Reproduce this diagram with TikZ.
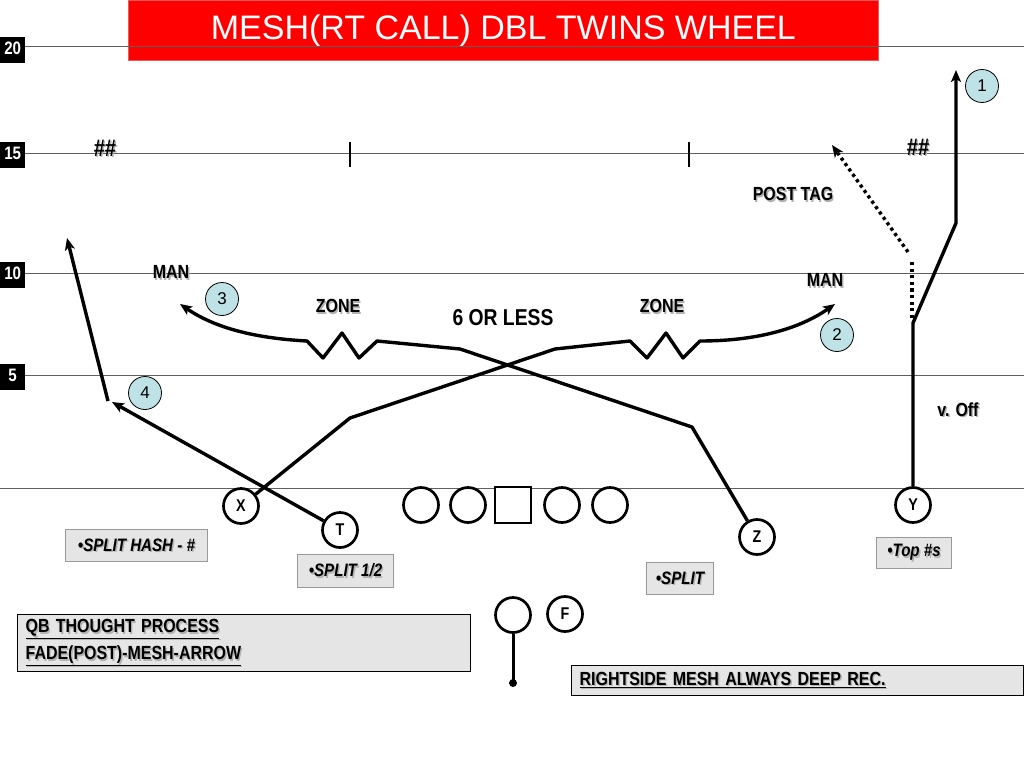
\documentclass[tikz,border=0pt]{standalone}
\usepackage{fontspec}
\setmainfont{Liberation Sans}
\newfontfamily\nar[FakeStretch=0.84]{Liberation Sans}
\usetikzlibrary{arrows.meta}
\definecolor{numfill}{RGB}{190,226,229}
\definecolor{boxfill}{RGB}{229,229,229}
\definecolor{yardline}{RGB}{95,95,95}
\definecolor{titlered}{RGB}{255,0,0}
\newcommand\shd[1]{\leavevmode\rlap{\hspace{1.4pt}\raisebox{-1.4pt}{\textcolor{black!30}{#1}}}#1}
\begin{document}
\begin{tikzpicture}[x=1pt,y=-1pt,
  yl/.style={draw=yardline,line width=1pt},
  route/.style={line width=3.4pt,line join=round},
  arr/.style={-{Stealth[length=12pt,width=10pt,inset=3pt]}},
  dotroute/.style={line width=3.4pt,dash pattern=on 3.2pt off 3.4pt},
  player/.style={circle,draw,line width=2.7pt,fill=white,minimum size=35pt,inner sep=0pt,font=\nar\bfseries\fontsize{17}{17}\selectfont},
  lineman/.style={circle,draw,line width=2.7pt,fill=white,minimum size=35pt,inner sep=0pt},
  center/.style={rectangle,draw,line width=2.7pt,fill=white,minimum size=36pt,inner sep=0pt},
  numc/.style={circle,draw,line width=0.8pt,fill=numfill,minimum size=33pt,inner sep=0pt,font=\fontsize{17}{17}\selectfont},
  yardnum/.style={fill=black,text=white,font=\nar\bfseries\fontsize{18}{18}\selectfont,minimum width=25pt,inner sep=0pt,text height=17pt,text depth=9pt,anchor=north west},
  lbl/.style={font=\nar\bfseries\fontsize{19}{19}\selectfont,inner sep=0pt},
  note/.style={draw=black!40,fill=boxfill,line width=1pt,inner sep=0pt,font=\nar\bfseries\itshape\fontsize{18}{18}\selectfont,anchor=north west},
  bignote/.style={draw=black,fill=boxfill,line width=1.3pt,inner ysep=0pt,inner xsep=8pt,align=left,font=\nar\bfseries\fontsize{19}{27}\selectfont,anchor=north west}
]
\useasboundingbox (0,0) rectangle (1024,768);
\fill[white] (0,0) rectangle (1024,768);

% title
\node[fill=titlered,draw={rgb,255:red,235;green,90;blue,90},line width=0.8pt,minimum width=750pt,minimum height=60pt,anchor=north west,inner sep=0pt,text=white,font=\fontsize{34}{34}\selectfont] (title) at (128,0) {MESH(RT CALL) DBL TWINS WHEEL};

% yard lines
\draw[yl] (25,47) -- (1024,47);
\draw[yl] (25,153) -- (1024,153);
\draw[yl] (25,273) -- (1024,273);
\draw[yl] (25,375) -- (1024,375);
\draw[yl] (0,488) -- (1024,488);
\node[yardnum] (y20) at (0,37) {20};
\node[yardnum] (y15) at (0,142) {15};
\node[yardnum] (y10) at (0,262) {10};
\node[yardnum] (y5) at (0,364) {5};

% hashes and ticks
\node[lbl,font=\nar\bfseries\fontsize{24}{24}\selectfont] (hashl) at (105,149) {\shd{\#\#}};
\node[lbl,font=\nar\bfseries\fontsize{24}{24}\selectfont] (hashr) at (918,148) {\shd{\#\#}};
\draw[line width=1.6pt] (350,142) -- (350,167);
\draw[line width=1.6pt] (689,142) -- (689,167);

% players
\node[player] (X) at (241,506) {X};
\node[player] (T) at (340,530) {T};
\node[lineman] (o1) at (421,505) {};
\node[lineman] (o2) at (468,505) {};
\node[center] (C) at (513,505) {};
\node[lineman] (o3) at (562,505) {};
\node[lineman] (o4) at (610,505) {};
\node[player] (Z) at (757,537) {Z};
\node[player] (Y) at (913,505) {Y};
\node[lineman] (QB) at (513,615) {};
\node[player] (F) at (565,614) {F};
\coordinate (qbend) at (513,683);
\draw[line width=3pt] (QB) -- (qbend);
\fill (qbend) circle (4pt);

% X route
\coordinate (xa) at (350,418);
\coordinate (xb) at (555,349);
\coordinate (xc) at (630,341);
\coordinate (xz1) at (647,358);
\coordinate (xz2) at (666,333);
\coordinate (xz3) at (683,358);
\coordinate (xe) at (700,341);
\coordinate (xt) at (835,304);
\draw[route,arr] (X) -- (xa) -- (xb) -- (xc) -- (xz1) -- (xz2) -- (xz3) -- (xe) .. controls (765,341) and (805,325) .. (xt);

% Z route
\coordinate (za) at (692,427);
\coordinate (zb) at (460,349);
\coordinate (zc) at (377,341);
\coordinate (zz1) at (359,358);
\coordinate (zz2) at (342,333);
\coordinate (zz3) at (323,358);
\coordinate (ze) at (307,341);
\coordinate (zt) at (180,304);
\draw[route,arr] (Z) -- (za) -- (zb) -- (zc) -- (zz1) -- (zz2) -- (zz3) -- (ze) .. controls (250,338) and (212,326) .. (zt);

% T route
\coordinate (ta) at (112,402);
\coordinate (tb) at (108,401);
\coordinate (tt) at (67,238);
\draw[route,arr] (T) -- (ta);
\draw[route,arr] (tb) -- (tt);

% Y route
\coordinate (ya) at (913,323);
\coordinate (yb) at (956,223);
\coordinate (yt) at (956,70);
\draw[route,arr] (Y) -- (ya) -- (yb) -- (yt);

% post tag (dotted)
\coordinate (pa) at (912,318);
\coordinate (pb) at (912,262);
\coordinate (pc) at (908,252);
\coordinate (pt) at (832,145);
\draw[dotroute] (pa) -- (pb);
\draw[dotroute,arr] (pc) -- (pt);

% number circles
\node[numc] (n1) at (982,86) {1};
\node[numc] (n2) at (837,335) {2};
\node[numc] (n3) at (222,299) {3};
\node[numc] (n4) at (145,393) {4};

% labels
\node[lbl] (manl) at (171,273) {\shd{MAN}};
\node[lbl] (manr) at (825,281) {\shd{MAN}};
\node[lbl] (zonel) at (338,307) {\shd{ZONE}};
\node[lbl] (zoner) at (662,307) {\shd{ZONE}};
\node[lbl,font=\nar\bfseries\fontsize{23}{23}\selectfont] (six) at (503,318) {6 OR LESS};
\node[lbl] (post) at (793,195) {\shd{POST TAG}};
\node[lbl] (voff) at (958,410) {\shd{v. Off}};

% notes
\node[note,minimum width=142pt,minimum height=32pt] (nh) at (65,529) {\shd{\textbullet SPLIT HASH - \#}};
\node[note,minimum width=96pt,minimum height=33pt] (ns) at (297,554) {\shd{\textbullet SPLIT 1/2}};
\node[note,minimum width=67pt,minimum height=32pt] (nz) at (646,562) {\shd{\textbullet SPLIT}};
\node[note,minimum width=75pt,minimum height=31pt] (nt) at (876,537) {\shd{\textbullet Top \#s}};
\node[bignote,text width=437pt,minimum height=57pt] (qbnote) at (17,614) {\shd{\underline{QB THOUGHT PROCESS}}\\\shd{\underline{FADE(POST)-MESH-ARROW}}};
\node[bignote,text width=436pt,minimum height=30pt] (rsnote) at (571,665) {\shd{\underline{RIGHTSIDE MESH ALWAYS DEEP REC.}}};
\end{tikzpicture}
\end{document}
